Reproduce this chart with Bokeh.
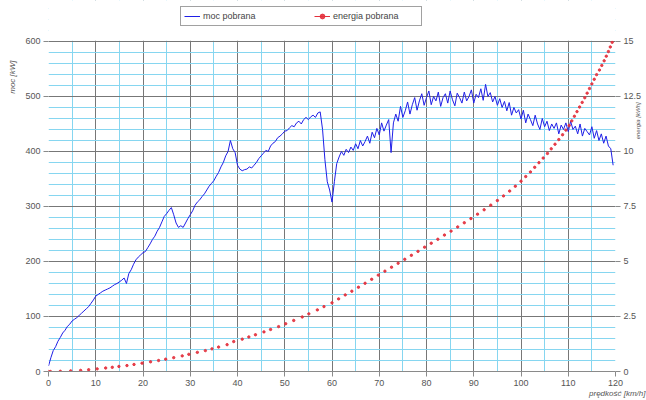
from math import pi
from bokeh.plotting import figure
from bokeh.models import (Range1d, LinearAxis, SingleIntervalTicker, FixedTicker, Legend,
                          LegendItem, CustomJSTickFormatter, BoxAnnotation, Title)
from bokeh.embed import file_html
from bokeh.resources import INLINE

# ---------------- data ----------------
speed = [
    0, 0.5, 1, 1.5, 2, 2.5, 3, 3.5, 4, 4.5, 5, 5.5, 6, 6.5, 7, 7.5, 8, 8.5, 9, 9.5,
    10, 10.5, 11, 11.5, 12, 12.5, 13, 13.5, 14, 14.5, 15, 15.5, 16, 16.5, 17, 17.5, 18, 18.5, 19, 19.5,
    20, 20.5, 21, 21.5, 22, 22.5, 23, 23.5, 24, 24.5, 25, 25.5, 26, 26.5, 27, 27.5, 28, 28.5, 29, 29.5,
    30, 30.5, 31, 31.5, 32, 32.5, 33, 33.5, 34, 34.5, 35, 35.5, 36, 36.5, 37, 37.5, 38, 38.5, 39, 39.5,
    40, 40.5, 41, 41.5, 42, 42.5, 43, 43.5, 44, 44.5, 45, 45.5, 46, 46.5, 47, 47.5, 48, 48.5, 49, 49.5,
    50, 50.5, 51, 51.5, 52, 52.5, 53, 53.5, 54, 54.5, 55, 55.5, 56, 56.5, 57, 57.5, 58, 58.5, 59, 59.5,
    60, 60.5, 61, 61.5, 62, 62.5, 63, 63.5, 64, 64.5, 65, 65.5, 66, 66.5, 67, 67.5, 68, 68.5, 69, 69.5,
    70, 70.5, 71, 71.5, 72, 72.5, 73, 73.5, 74, 74.5, 75, 75.5, 76, 76.5, 77, 77.5, 78, 78.5, 79, 79.5,
    80, 80.5, 81, 81.5, 82, 82.5, 83, 83.5, 84, 84.5, 85, 85.5, 86, 86.5, 87, 87.5, 88, 88.5, 89, 89.5,
    90, 90.5, 91, 91.5, 92, 92.5, 93, 93.5, 94, 94.5, 95, 95.5, 96, 96.5, 97, 97.5, 98, 98.5, 99, 99.5,
    100, 100.5, 101, 101.5, 102, 102.5, 103, 103.5, 104, 104.5, 105, 105.5, 106, 106.5, 107, 107.5, 108, 108.5, 109, 109.5,
    110, 110.5, 111, 111.5, 112, 112.5, 113, 113.5, 114, 114.5, 115, 115.5, 116, 116.5, 117, 117.5, 118, 118.5, 119, 119.5,
]
power_kw = [
    10, 25, 38, 45, 55, 62, 70, 75, 82, 86, 92, 95, 98, 102, 106, 110, 114, 118, 124, 130,
    137, 140, 143, 146, 148, 150, 152, 155, 158, 160, 163, 166, 170, 160, 178, 185, 195, 203, 208, 212,
    216, 218, 225, 232, 240, 246, 255, 262, 272, 282, 287, 293, 298, 285, 270, 262, 265, 262, 270, 278,
    285, 292, 302, 308, 312, 318, 323, 330, 337, 342, 347, 355, 362, 372, 380, 392, 400, 420, 405, 398,
    375, 368, 365, 367, 368, 372, 370, 375, 380, 387, 392, 397, 402, 400, 410, 415, 418, 425, 428, 432,
    437, 438, 443, 447, 445, 452, 455, 450, 458, 462, 458, 463, 466, 462, 470, 472, 440, 385, 345, 330,
    308, 345, 378, 390, 400, 393, 404, 398, 408, 402, 414, 405, 420, 410, 418, 428, 415, 435, 425, 442,
    430, 452, 437, 448, 458, 398, 452, 468, 455, 482, 462, 474, 490, 468, 485, 498, 475, 492, 505, 484,
    498, 510, 485, 500, 492, 508, 482, 498, 505, 488, 510, 494, 483, 506, 498, 488, 508, 492, 500, 512,
    488, 504, 498, 514, 493, 522, 500, 507, 490, 500, 484, 496, 480, 491, 474, 489, 466, 480, 470, 476,
    459, 475, 452, 468, 458, 447, 466, 450, 440, 460, 445, 455, 438, 450, 442, 452, 432, 448, 440, 452,
    436, 455, 440, 446, 432, 450, 428, 442, 436, 430, 445, 424, 438, 420, 432, 415, 428, 410, 405, 375,
]
energy_speed = [
    0, 0.4, 2.5, 4.7, 6.8, 8.5, 10.3, 12.1, 13.5, 14.9, 16.6, 18.1, 19.8, 21.6, 23.3, 24.8,
    26.5, 28.3, 29.7, 31.5, 33.2, 34.6, 36.0, 37.8, 39.2, 41.0, 42.4, 43.8, 45.6, 47.0, 48.7,
    50.2, 51.9, 53.7, 55.1, 56.9, 58.3, 60.0, 61.4, 62.8, 64.2, 65.6, 67.0, 68.4, 69.8, 71.2,
    72.6, 74.0, 75.4, 76.8, 78.2, 79.6, 81.0, 82.4, 83.8, 85.2, 86.6, 88.0, 89.4, 90.8, 92.2,
    93.6, 95.0, 96.3, 97.6, 98.8, 100.0, 101.0, 102.0, 102.9, 103.8, 104.7, 105.6, 106.4, 107.2,
    108.0, 108.8, 109.5, 110.2, 110.75, 111.3, 111.85, 112.4, 112.95, 113.5, 114.0, 114.5, 115.0,
    115.5, 116.0, 116.6, 117.1, 117.6, 118.05, 118.5, 118.9, 119.3,
]
energy_kwh = [
    0, 0.0, 0.01, 0.03, 0.05, 0.08, 0.12, 0.16, 0.19, 0.23, 0.27, 0.32, 0.38, 0.44, 0.50, 0.56,
    0.63, 0.71, 0.78, 0.87, 0.95, 1.03, 1.11, 1.22, 1.36, 1.47, 1.57, 1.67, 1.80, 1.91, 2.04,
    2.17, 2.32, 2.48, 2.62, 2.80, 2.95, 3.12, 3.30, 3.48, 3.65, 3.83, 4.01, 4.19, 4.38, 4.56,
    4.74, 4.92, 5.10, 5.28, 5.46, 5.65, 5.83, 6.01, 6.20, 6.38, 6.57, 6.76, 6.95, 7.15, 7.35,
    7.56, 7.77, 7.98, 8.20, 8.42, 8.65, 8.86, 9.07, 9.28, 9.49, 9.70, 9.91, 10.12, 10.33,
    10.54, 10.76, 10.97, 11.18, 11.39, 11.60, 11.81, 12.02, 12.23, 12.44, 12.65, 12.86, 13.07,
    13.28, 13.49, 13.70, 13.91, 14.12, 14.33, 14.54, 14.75, 14.96,
]
series_names = ["moc pobrana", "energia pobrana"]
x_title = "prędkość [km/h]"
y_title = "moc [kW]"
y2_title = "energia [kWh]"

# ---------------- figure ----------------
FONT = "Liberation Sans"
TXT = "#555555"
AX = "#8a8a8a"
NB = "\u00a0"

# the frame reaches the top of the page so that the legend (drawn in the frame) is not clipped;
# the strip above 600 kW is masked white
Y_TOP = 674.5
E_TOP = 16.86

p = figure(width=646, height=400, output_backend="svg", toolbar_location=None,
           x_range=Range1d(0, 120), y_range=Range1d(0, Y_TOP),
           min_border_left=48, min_border_right=31, min_border_top=0, min_border_bottom=29,
           background_fill_color="white", border_fill_color="white")
p.extra_y_ranges = {"e": Range1d(0, E_TOP)}

p.xaxis.ticker = SingleIntervalTicker(interval=10, num_minor_ticks=2)
p.yaxis.ticker = SingleIntervalTicker(interval=100, num_minor_ticks=5)
p.xgrid.ticker = SingleIntervalTicker(interval=10, num_minor_ticks=2)
p.ygrid.ticker = SingleIntervalTicker(interval=100, num_minor_ticks=5)

for g in (p.xgrid, p.ygrid):
    g.grid_line_color = "#777777"
    g.grid_line_width = 1
    g.minor_grid_line_color = "#86d6f0"
    g.minor_grid_line_width = 1

p.outline_line_color = None

ax2 = LinearAxis(y_range_name="e", ticker=SingleIntervalTicker(interval=2.5, num_minor_ticks=0),
                 formatter=CustomJSTickFormatter(code="return String(tick);"))
p.add_layout(ax2, "right")

for ax in (p.xaxis[0], p.yaxis[0], ax2):
    ax.axis_line_color = AX
    ax.major_tick_line_color = AX
    ax.major_tick_out = 5
    ax.major_tick_in = 0
    ax.minor_tick_line_color = None
    ax.major_label_text_font = FONT
    ax.major_label_text_font_size = "9px"
    ax.major_label_text_color = TXT
    ax.major_label_standoff = 3
# vertical edges of the plot area are drawn by the grid lines at 0 and 120 (masked above 600)
p.yaxis[0].axis_line_color = None
ax2.axis_line_color = None


def title_axis(text, standoff, size, orientation=None):
    a = LinearAxis(ticker=FixedTicker(ticks=[300]), axis_label=text,
                   formatter=CustomJSTickFormatter(code="return '';"))
    a.axis_line_color = None
    a.major_tick_line_color = None
    a.minor_tick_line_color = None
    a.major_label_text_font_size = "1px"
    a.major_tick_out = 0
    a.major_tick_in = 0
    a.major_label_standoff = 0
    a.axis_label_standoff = standoff
    a.axis_label_text_font = FONT
    a.axis_label_text_font_size = size
    a.axis_label_text_font_style = "italic"
    a.axis_label_text_color = TXT
    if orientation is not None:
        a.axis_label_orientation = orientation
    return a


# axis titles sit near the top of their axes: leading no-break spaces shift them along the axis
p.add_layout(title_axis(NB * 98 + y_title, 6, "8px"), "left")
p.add_layout(title_axis(NB * 28 + y2_title, -7, "6px", pi / 2), "right")
p.add_layout(Title(text=x_title, align="right", offset=-30, standoff=0, vertical_align="top",
                   text_font=FONT, text_font_size="8px", text_font_style="italic",
                   text_color=TXT), "below")

# ---------------- data renderers ----------------
r_pow = p.line(speed, power_kw, color="#1f1fe6", line_width=1)
# legend proxy for the red line+marker symbol (placed outside the visible range)
r_en_line = p.line([-20, -10], [-5, -5], color="#e3303c", line_width=1, y_range_name="e")
r_en = p.scatter(energy_speed, energy_kwh, y_range_name="e", size=2.4, marker="circle",
                 fill_color="#e3303c", line_color="#e3303c", alpha=0.9)

# white mask over the strip above the 600 kW line
p.add_layout(BoxAnnotation(bottom=601.5, fill_color="white", fill_alpha=1, line_color=None))

# ---------------- legend ----------------
legend = Legend(items=[LegendItem(label=series_names[0], renderers=[r_pow]),
                       LegendItem(label=series_names[1], renderers=[r_en_line, r_en])],
                location=(132, 345), orientation="horizontal",
                padding=3, spacing=26, glyph_width=16, glyph_height=12, label_height=12,
                label_width=85, label_standoff=3, label_text_font=FONT,
                label_text_font_size="9px", label_text_color="#444444",
                border_line_color="#444444", border_line_width=1,
                background_fill_color="white", background_fill_alpha=1, margin=0)
p.add_layout(legend)

open("out.html", "w").write(file_html(p, INLINE))
